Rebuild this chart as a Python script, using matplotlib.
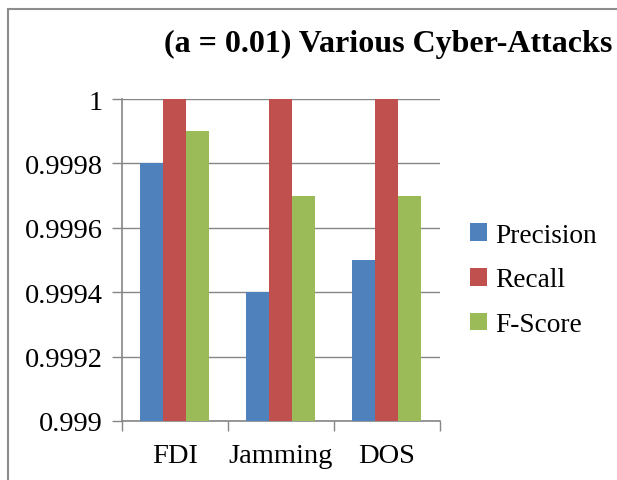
import matplotlib
matplotlib.use("Agg")
import matplotlib.pyplot as plt
from matplotlib.lines import Line2D
import numpy as np

plt.rcParams['font.family'] = ['Liberation Serif', 'DejaVu Serif']

categories = ["FDI", "Jamming", "DOS"]
series_names = ["Precision", "Recall", "F-Score"]
precision = [0.9998, 0.9994, 0.9995]
recall = [1.0, 1.0, 1.0]
f_score = [0.9999, 0.9997, 0.9997]
y_ticks = [0.999, 0.9992, 0.9994, 0.9996, 0.9998, 1.0]
y_tick_labels = ["0.999", "0.9992", "0.9994", "0.9996", "0.9998", "1"]
colors = ["#4F81BD", "#C0504D", "#9BBB59"]

fig = plt.figure(figsize=(6.17, 4.81), dpi=100)
ax = fig.add_axes([0.1977, 0.1227, 0.5153, 0.6693])

x = np.arange(len(categories))
w = 0.217
base = y_ticks[0]
for i, (vals, name, c) in enumerate(zip([precision, recall, f_score], series_names, colors)):
    vals = np.asarray(vals)
    ax.bar(x + (i - 1) * w, vals - base, w, bottom=base, color=c, label=name, zorder=3)

ax.set_xlim(-0.5, len(categories) - 0.5)
ax.set_ylim(y_ticks[0], y_ticks[-1])
ax.set_yticks(y_ticks)
ax.set_yticklabels(y_tick_labels)
ax.set_xticks(x)
ax.set_xticklabels(categories)
ax.set_xticks(np.arange(-0.5, len(categories)), minor=True)

grid_c = "#868686"
ax.yaxis.grid(True, color=grid_c, linewidth=1.0, zorder=0)
ax.set_axisbelow(True)
for s in ["top", "right"]:
    ax.spines[s].set_visible(False)
for s in ["left", "bottom"]:
    ax.spines[s].set_color(grid_c)
    ax.spines[s].set_linewidth(1.2)

ax.tick_params(axis="y", length=7, color=grid_c, width=1.0, labelsize=20.5, pad=7)
ax.tick_params(axis="x", which="major", length=0, labelsize=20.5, pad=16)
ax.tick_params(axis="x", which="minor", length=7, color=grid_c, width=1.0)

fig.text(0.993, 0.907, "(a = 0.01) Various Cyber-Attacks", ha="right", va="center",
         fontsize=23, fontweight="bold")

leg = ax.legend(loc="center left", bbox_to_anchor=(1.095, 0.438), frameon=False,
                borderaxespad=0, borderpad=0,
                fontsize=19.7, handlelength=0.6, handleheight=0.6, handletextpad=0.3,
                labelspacing=0.73)

# chart-area border
fig.add_artist(Line2D([0.013, 0.013], [0.0, 0.979], color="#8c8c8c", linewidth=1.5,
                      transform=fig.transFigure))
fig.add_artist(Line2D([0.013, 1.0], [0.979, 0.979], color="#8c8c8c", linewidth=1.5,
                      transform=fig.transFigure))

fig.savefig("out.png", dpi=100)
